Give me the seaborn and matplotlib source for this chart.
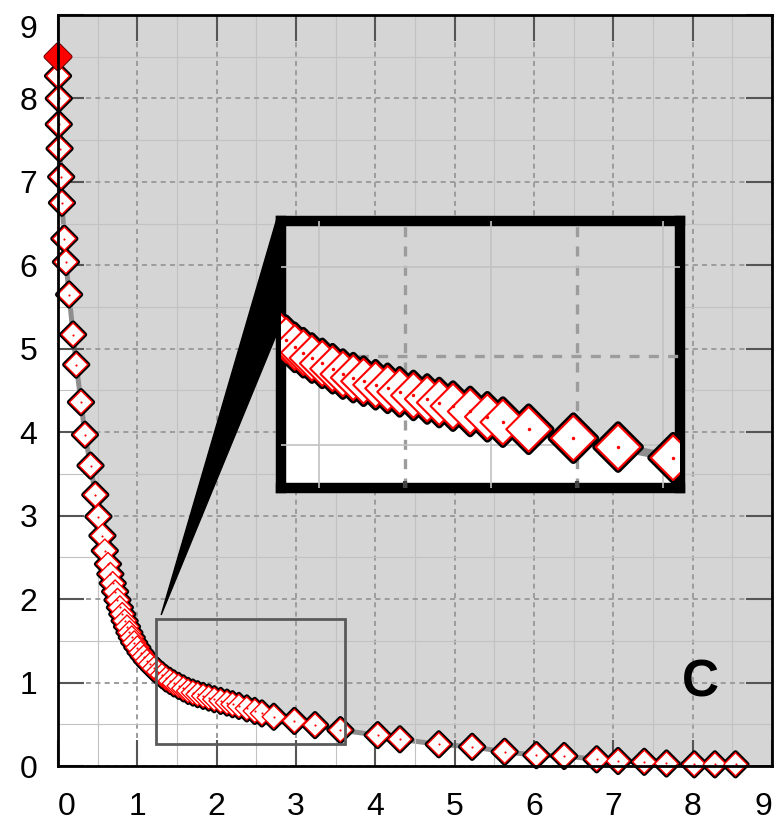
import numpy as np
import matplotlib.pyplot as plt
import matplotlib.patheffects as pe
from matplotlib.patches import Rectangle, Polygon
from matplotlib.ticker import MultipleLocator
import seaborn as sns

# --- values ---
# first (highlighted) solution of the front
start_x = [0.00]
start_y = [8.50]

# remaining points of the front, left to right
front_x = [0.00, 0.01, 0.01, 0.02, 0.04, 0.05, 0.08, 0.10, 0.14, 0.19,
           0.23, 0.29, 0.34, 0.41, 0.47, 0.51, 0.56, 0.59, 0.63, 0.66,
           0.69, 0.72, 0.75, 0.78, 0.81, 0.84, 0.87, 0.90, 0.93, 0.96,
           1.00, 1.04, 1.08, 1.12, 1.16, 1.21, 1.26, 1.31, 1.36, 1.41,
           1.46, 1.52, 1.58, 1.64, 1.70, 1.76, 1.83, 1.90, 1.97, 2.05,
           2.13, 2.20, 2.28, 2.38, 2.48, 2.57, 2.72, 2.98, 3.24, 3.56,
           4.03, 4.31, 4.80, 5.22, 5.63, 6.03, 6.38, 6.79, 7.06, 7.39,
           7.67, 8.02, 8.28, 8.54]
front_y = [8.27, 8.00, 7.69, 7.40, 7.06, 6.75, 6.32, 6.04, 5.65, 5.17,
           4.81, 4.36, 3.97, 3.60, 3.25, 2.99, 2.76, 2.58, 2.42, 2.30,
           2.19, 2.09, 1.99, 1.90, 1.82, 1.74, 1.67, 1.60, 1.54, 1.48,
           1.42, 1.36, 1.31, 1.26, 1.22, 1.17, 1.13, 1.09, 1.05, 1.02,
           0.99, 0.96, 0.93, 0.90, 0.88, 0.86, 0.84, 0.82, 0.80, 0.78,
           0.76, 0.74, 0.72, 0.69, 0.66, 0.63, 0.59, 0.54, 0.49, 0.43,
           0.37, 0.32, 0.26, 0.23, 0.17, 0.13, 0.12, 0.08, 0.06, 0.05,
           0.03, 0.02, 0.02, 0.02]

zoom_xlim = [1.28, 3.60]
zoom_ylim = [0.26, 1.76]
axis_ticks = list(range(10))
panel_label = "C"

GRAY_BG = "#d5d5d5"
SHADOW = "#8e8e8e"


def draw_front(ax, size, edge_lw, stroke_lw, shadow_lw, clip):
    """Gray region above the front, shadow line and diamond markers."""
    xs = start_x + front_x + [9.0]
    ys = start_y + front_y + [front_y[-1]]
    ax.fill_between(xs, ys, 9.0, color=GRAY_BG, lw=0, zorder=0)
    sns.lineplot(x=start_x + front_x, y=start_y + front_y, sort=False,
                 color=SHADOW, lw=shadow_lw, ax=ax, zorder=1)
    sns.scatterplot(x=front_x, y=front_y, marker="D", s=size,
                    facecolor="white", edgecolor="red", linewidth=edge_lw,
                    ax=ax, zorder=3, clip_on=clip)
    ax.collections[-1].set_path_effects(
        [pe.Stroke(linewidth=stroke_lw, foreground="black"), pe.Normal()])
    # small red dot in the middle of every diamond
    sns.scatterplot(x=front_x, y=front_y, marker="o", s=size * 0.01 + 1,
                    color="red", linewidth=0, ax=ax, zorder=4, clip_on=clip)


def style_grid(ax, major_lw, dash, minor_lw):
    ax.xaxis.set_major_locator(MultipleLocator(1))
    ax.yaxis.set_major_locator(MultipleLocator(1))
    ax.xaxis.set_minor_locator(MultipleLocator(0.5))
    ax.yaxis.set_minor_locator(MultipleLocator(0.5))
    ax.grid(True, which="major", color="#9c9c9c", lw=major_lw,
            linestyle=(0, dash), zorder=0.5)
    ax.grid(True, which="minor", color="#c2c2c2", lw=minor_lw,
            linestyle="-", zorder=0.4)
    ax.set_axisbelow(False)


sns.set_style("white")
plt.rcParams["font.family"] = ["Liberation Sans", "DejaVu Sans"]

fig = plt.figure(figsize=(7.78, 8.22), dpi=100)
ax = fig.add_axes([58 / 778, 56 / 822, 714 / 778, 751 / 822])
ax.set_facecolor("white")

style_grid(ax, 1.4, (2.6, 2.2), 0.8)
draw_front(ax, 140, 1.0, 3.6, 3.6, False)

# highlighted first point
sns.scatterplot(x=start_x, y=start_y, marker="D", s=150, color="red",
                edgecolor="red", linewidth=2.2, ax=ax, zorder=5, clip_on=False)
ax.collections[-1].set_path_effects(
    [pe.Stroke(linewidth=3.6, foreground="#660000"), pe.Normal()])

ax.set_xlim(0, 9)
ax.set_ylim(0, 9)
ax.set_xticks(axis_ticks)
ax.set_yticks(axis_ticks)
ax.tick_params(which="major", direction="in", length=19, width=1.5,
               color="#555555", labelsize=23, labelcolor="black",
               top=True, right=True, bottom=True, left=True)
ax.tick_params(axis="x", pad=19)
ax.tick_params(axis="y", pad=15)
ax.tick_params(which="minor", length=0)
xlabels = ax.get_xticklabels()
xlabels[0].set_horizontalalignment("left")
xlabels[-1].set_horizontalalignment("right")
ylabels = ax.get_yticklabels()
ylabels[-1].set_verticalalignment("top")
for side in ["left", "bottom", "right", "top"]:
    ax.spines[side].set_color("black")
    ax.spines[side].set_linewidth(2.0)
    ax.spines[side].set_zorder(6)

ax.text(8.1, 1.0, panel_label, fontsize=37, fontweight="bold",
        color="black", ha="center", va="center", zorder=6)

# rectangle marking the zoomed region
ax.add_patch(Rectangle((zoom_xlim[0] - 0.04, zoom_ylim[0]),
                       zoom_xlim[1] - zoom_xlim[0] + 0.06,
                       zoom_ylim[1] - zoom_ylim[0],
                       fill=False, edgecolor="#5a5a5a", lw=2.0, zorder=5))

# inset
axins = fig.add_axes([281 / 778, 334 / 822, 399 / 778, 267 / 822])
axins.set_facecolor("white")
style_grid(axins, 2.4, (3.0, 2.8), 1.2)
draw_front(axins, 520, 1.5, 5.0, 6.0, True)
axins.set_xlim(zoom_xlim)
axins.set_ylim(zoom_ylim)
axins.tick_params(which="major", direction="in", length=5, width=3,
                  color="#444444", labelbottom=False, labelleft=False,
                  bottom=True, left=True)
axins.tick_params(which="minor", length=0)
axins.set_xlabel("")
axins.set_ylabel("")
for side in ["left", "bottom", "right", "top"]:
    axins.spines[side].set_color("black")
    axins.spines[side].set_linewidth(7.5)

# black wedge linking the rectangle to the inset
to_data = ax.transData.inverted()
base_top = to_data.transform(axins.transAxes.transform((-0.01, 1.01)))
base_bot = to_data.transform(axins.transAxes.transform((-0.01, 0.58)))
apex = (zoom_xlim[0] + 0.02, zoom_ylim[1] + 0.05)
ax.add_patch(Polygon([apex, tuple(base_top), tuple(base_bot)], closed=True,
                     facecolor="black", edgecolor="black", lw=1,
                     zorder=7, clip_on=False))

fig.savefig("out.png", dpi=100)
